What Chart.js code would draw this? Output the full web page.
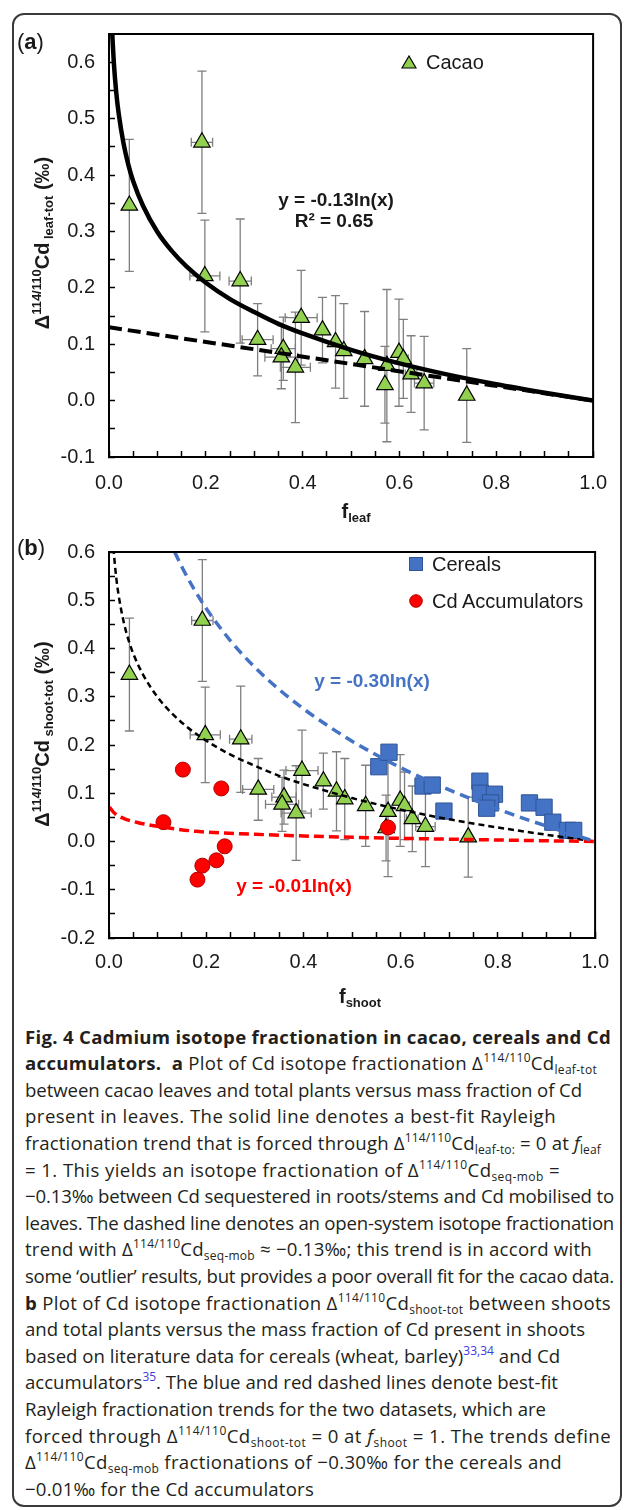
<!DOCTYPE html>
<html><head><meta charset="utf-8">
<script src="https://cdn.jsdelivr.net/npm/chart.js@4.4.1/dist/chart.umd.min.js"></script>
<style>
html,body{margin:0;padding:0;background:#fff;}
#page{position:relative;width:627px;height:1510px;overflow:hidden;font-family:'Liberation Sans',Arial,sans-serif;color:#1a1a1a;}
#frame{position:absolute;left:12px;top:13px;width:610px;height:1494px;border:2px solid #3a3a3a;border-radius:12px;box-sizing:border-box;}
canvas{position:absolute;left:0;}
.ov{position:absolute;white-space:nowrap;line-height:1;}
.c{transform:translate(-50%,-50%);}
.l{transform:translate(0,-50%);}
.rot{transform:translate(-50%,-50%) rotate(-90deg);font-weight:bold;font-size:20px;}
.sp{font-size:13px;position:relative;top:-8px;}
.sb{font-size:13px;position:relative;top:4px;}
.eq{font-weight:bold;font-size:19px;}
.leg{font-size:20px;}
#cap{position:absolute;left:25px;top:1023.7px;width:620px;font-family:'Open Sans','Noto Sans',sans-serif;font-size:18.6px;color:#231f20;}
#cap div{height:26.6px;line-height:26.6px;white-space:nowrap;}
#cap div span.w{display:inline-block;white-space:nowrap;transform-origin:0 50%;}
#cap .u{font-size:12px;position:relative;top:-8px;}
#cap .d{font-size:12px;position:relative;top:4px;}
#cap .ref{font-size:12px;position:relative;top:-8px;color:#3a3ae0;}
</style></head>
<body>
<div id="page">
  <div id="frame"></div>
  <canvas id="ca" width="627" height="520" style="top:0"></canvas>
  <canvas id="cb" width="627" height="500" style="top:520px"></canvas>

  <!-- panel a text -->
  <div class="ov l" style="left:17px;top:42px;font-size:22px;">(<b>a</b>)</div>
  <div class="ov rot" style="left:42px;top:243px;">Δ<span class="sp">114/110</span>Cd<span class="sb"> leaf-tot</span> (‰)</div>
  <div class="ov c" style="left:356px;top:511px;font-weight:bold;font-size:20px;">f<span class="sb">leaf</span></div>
  <div class="ov c eq" style="left:336px;top:199px;">y = -0.13ln(x)</div>
  <div class="ov c eq" style="left:334px;top:220px;">R² = 0.65</div>
  <svg class="ov" style="left:401px;top:55px" width="16" height="14"><polygon points="8,1 15,13 1,13" fill="#92D050" stroke="#000" stroke-width="1.2"/></svg>
  <div class="ov l leg" style="left:426px;top:62px;">Cacao</div>

  <!-- panel b text -->
  <div class="ov l" style="left:17px;top:548px;font-size:22px;">(<b>b</b>)</div>
  <div class="ov rot" style="left:42px;top:734px;">Δ<span class="sp">114/110</span>Cd<span class="sb"> shoot-tot</span> (‰)</div>
  <div class="ov c" style="left:360px;top:996px;font-weight:bold;font-size:20px;">f<span class="sb">shoot</span></div>
  <div class="ov c eq" style="left:372px;top:680px;color:#4472C4;">y = -0.30ln(x)</div>
  <div class="ov c eq" style="left:294px;top:885px;color:#FF0000;">y = -0.01ln(x)</div>
  <svg class="ov" style="left:409px;top:557px" width="14" height="14"><rect x="0.5" y="0.5" width="13" height="13" fill="#4472C4" stroke="#2F5597" stroke-width="1"/></svg>
  <div class="ov l leg" style="left:432px;top:564px;">Cereals</div>
  <svg class="ov" style="left:409px;top:594px" width="14" height="14"><circle cx="7" cy="7" r="6.3" fill="#FF0000" stroke="#B00000" stroke-width="1"/></svg>
  <div class="ov l leg" style="left:432px;top:601px;">Cd Accumulators</div>

  <div id="cap">
    <div><span class="w"><b>Fig. 4 Cadmium isotope fractionation in cacao, cereals and Cd</b></span></div>
    <div><span class="w"><b>accumulators.</b>&nbsp; <b>a</b> Plot of Cd isotope fractionation Δ<span class="u">114/110</span>Cd<span class="d">leaf-tot</span></span></div>
    <div><span class="w">between cacao leaves and total plants versus mass fraction of Cd</span></div>
    <div><span class="w">present in leaves. The solid line denotes a best-fit Rayleigh</span></div>
    <div><span class="w">fractionation trend that is forced through Δ<span class="u">114/110</span>Cd<span class="d">leaf-to:</span> = 0 at <i>f</i><span class="d">leaf</span></span></div>
    <div><span class="w">= 1. This yields an isotope fractionation of Δ<span class="u">114/110</span>Cd<span class="d">seq-mob</span> =</span></div>
    <div><span class="w">−0.13‰ between Cd sequestered in roots/stems and Cd mobilised to</span></div>
    <div><span class="w">leaves. The dashed line denotes an open-system isotope fractionation</span></div>
    <div><span class="w">trend with Δ<span class="u">114/110</span>Cd<span class="d">seq-mob</span> ≈ −0.13‰; this trend is in accord with</span></div>
    <div><span class="w">some ‘outlier’ results, but provides a poor overall fit for the cacao data.</span></div>
    <div><span class="w"><b>b</b> Plot of Cd isotope fractionation Δ<span class="u">114/110</span>Cd<span class="d">shoot-tot</span> between shoots</span></div>
    <div><span class="w">and total plants versus the mass fraction of Cd present in shoots</span></div>
    <div><span class="w">based on literature data for cereals (wheat, barley)<span class="ref">33,34</span> and Cd</span></div>
    <div><span class="w">accumulators<span class="ref">35</span>. The blue and red dashed lines denote best-fit</span></div>
    <div><span class="w">Rayleigh fractionation trends for the two datasets, which are</span></div>
    <div><span class="w">forced through Δ<span class="u">114/110</span>Cd<span class="d">shoot-tot</span> = 0 at <i>f</i><span class="d">shoot</span> = 1. The trends define</span></div>
    <div><span class="w">Δ<span class="u">114/110</span>Cd<span class="d">seq-mob</span> fractionations of −0.30‰ for the cereals and</span></div>
    <div><span class="w">−0.01‰ for the Cd accumulators</span></div>
  </div>
</div>
<script>
// ---------- data ----------
const xTickLabels = ['0.0','0.2','0.4','0.6','0.8','1.0'];
const yTickLabelsA = ['-0.1','0.0','0.1','0.2','0.3','0.4','0.5','0.6'];
const yTickLabelsB = ['-0.2','-0.1','0.0','0.1','0.2','0.3','0.4','0.5','0.6'];

const cacaoF    = [0.042,0.192,0.198,0.271,0.307,0.360,0.356,0.385,0.397,0.441,0.468,0.485,0.528,0.574,0.570,0.599,0.608,0.624,0.651,0.739];
const cacaoD    = [0.346,0.458,0.221,0.212,0.108,0.092,0.077,0.059,0.147,0.125,0.104,0.088,0.074,0.062,0.028,0.085,0.074,0.047,0.031,0.009];
const cacaoDErr = [0.117,0.126,0.099,0.110,0.064,0.056,0.056,0.098,0.084,0.058,0.082,0.084,0.084,0.135,0.068,0.095,0.070,0.068,0.083,0.083];
const cacaoFErr = [0,0.022,0.031,0.023,0.032,0.025,0.034,0.031,0.033,0,0,0,0,0,0,0,0.010,0.012,0.020,0];

const cerealF = [0.555,0.576,0.646,0.665,0.689,0.763,0.764,0.793,0.785,0.777,0.865,0.895,0.913,0.943,0.956];
const cerealD = [0.155,0.185,0.115,0.117,0.063,0.125,0.100,0.098,0.080,0.069,0.080,0.071,0.040,0.023,0.023];

const accumF = [0.152,0.231,0.112,0.238,0.221,0.192,0.182,0.574];
const accumD = [0.149,0.110,0.040,-0.010,-0.039,-0.050,-0.079,0.029];

// trend curves (y = -0.13 ln x, open-system, y = -0.30 ln x, y = -0.01 ln x)
const cacaoFitF = [0.0067,0.01,0.015,0.02,0.03,0.04,0.05,0.07,0.1,0.13,0.16,0.2,0.25,0.3,0.35,0.4,0.5,0.6,0.7,0.8,0.9,1.0];
const cacaoFitD = [0.65,0.599,0.546,0.509,0.456,0.418,0.389,0.346,0.299,0.265,0.238,0.209,0.180,0.157,0.136,0.119,0.090,0.066,0.046,0.029,0.014,0];
const openF = [0, 1];
const openD = [0.13, 0];
const cerealFitF = [0.135,0.15,0.175,0.2,0.25,0.3,0.35,0.4,0.45,0.5,0.6,0.7,0.8,0.9,1.0];
const cerealFitD = [0.600,0.569,0.523,0.483,0.416,0.361,0.315,0.275,0.240,0.208,0.153,0.107,0.067,0.032,0];
const accumFitF = [0.001,0.012,0.03,0.06,0.11,0.18,0.3,0.45,0.6,0.75,0.9,1.0];
const accumFitD = [0.071,0.058,0.048,0.039,0.030,0.021,0.015,0.010,0.0065,0.004,0.0015,0];

// caption line right edges (layout only)
const capRight = [611,597,582,556,601,560,614,614,592,614,611,585,560,558,546,611,562,314];

// ---------- caption fitting ----------
function fitCaption() {
  const lines = document.querySelectorAll('#cap span.w');
  lines.forEach((sp, i) => {
    sp.style.transform = 'none';
    const left = sp.getBoundingClientRect().left;
    const target = capRight[i] - left;
    const n = Math.max(1, sp.textContent.length);
    let ls = 0;
    sp.style.letterSpacing = '0px';
    for (let k = 0; k < 4; k++) {
      const w = sp.getBoundingClientRect().width;
      ls += (target - w) / n;
      ls = Math.max(-1.5, Math.min(1, ls));
      sp.style.letterSpacing = ls.toFixed(3) + 'px';
    }
    const w2 = sp.getBoundingClientRect().width;
    if (w2 > target + 1) sp.style.transform = 'scaleX(' + (target / w2).toFixed(4) + ')';
  });
}
fitCaption();
if (document.fonts && document.fonts.ready) document.fonts.ready.then(fitCaption);

// ---------- helpers ----------
const pts = (xs, ys) => xs.map((x, i) => ({x, y: ys[i]}));
Chart.defaults.font.family = "'Liberation Sans', Arial, sans-serif";
Chart.defaults.color = '#1a1a1a';

const errorBars = {
  id: 'errorBars',
  beforeDatasetsDraw(chart) {
    const {ctx, chartArea: a, scales: {x, y}} = chart;
    ctx.save();
    ctx.beginPath(); ctx.rect(a.left, a.top, a.width, a.height); ctx.clip();
    ctx.strokeStyle = '#7f7f7f'; ctx.lineWidth = 1.3;
    chart.data.datasets.forEach(ds => {
      if (!ds.errY) return;
      ds.data.forEach((p, i) => {
        const px = x.getPixelForValue(p.x), py = y.getPixelForValue(p.y);
        const ey = ds.errY[i], ex = ds.errX ? ds.errX[i] : 0, c = 4.5;
        ctx.beginPath();
        if (ey > 0) {
          const t = y.getPixelForValue(p.y + ey), b = y.getPixelForValue(p.y - ey);
          ctx.moveTo(px, t); ctx.lineTo(px, b);
          ctx.moveTo(px - c, t); ctx.lineTo(px + c, t);
          ctx.moveTo(px - c, b); ctx.lineTo(px + c, b);
        }
        if (ex > 0) {
          const l = x.getPixelForValue(p.x - ex), r = x.getPixelForValue(p.x + ex);
          ctx.moveTo(l, py); ctx.lineTo(r, py);
          ctx.moveTo(l, py - c); ctx.lineTo(l, py + c);
          ctx.moveTo(r, py - c); ctx.lineTo(r, py + c);
        }
        ctx.stroke();
      });
    });
    ctx.restore();
  }
};
const plotBox = {
  id: 'plotBox',
  afterDatasetsDraw(chart) {
    const {ctx, chartArea: a} = chart;
    ctx.save(); ctx.strokeStyle = '#000'; ctx.lineWidth = 2;
    ctx.strokeRect(a.left, a.top, a.width, a.height); ctx.restore();
  }
};

function labelCb(labels) {
  return v => {
    const s = (Math.abs(v) < 1e-9 ? 0 : v).toFixed(1);
    return (labels.includes(s) && Math.abs(v - parseFloat(s)) < 1e-6) ? s : '';
  };
}
function axis(min, max, labels, pad, fit) {
  return {
    type: 'linear', min, max,
    ticks: {stepSize: 0.05, autoSkip: false, padding: pad, color: '#1a1a1a', font: {size: 20}, maxRotation: 0, callback: labelCb(labels)},
    grid: {display: true, drawOnChartArea: false, drawTicks: true, tickLength: -6, tickColor: '#000', tickWidth: 1.5},
    border: {display: true, color: '#000', width: 2},
    afterFit: fit
  };
}
function curve(xs, ys, color, width, dash, order) {
  return {data: pts(xs, ys), showLine: true, pointRadius: 0, borderColor: color, borderWidth: width,
          borderDash: dash, fill: false, cubicInterpolationMode: 'monotone', order, borderCapStyle: 'butt'};
}
const cacaoSet = () => ({label: 'Cacao', data: pts(cacaoF, cacaoD), errY: cacaoDErr, errX: cacaoFErr,
  pointStyle: 'triangle', pointRadius: 9.5, backgroundColor: '#92D050', borderColor: '#000', borderWidth: 1.2, order: 5});

function makeChart(id, datasets, ymin, ymax, yLabels, padTop, xH, xPad) {
  return new Chart(document.getElementById(id), {
    type: 'scatter',
    data: {datasets},
    options: {
      responsive: false, animation: false, events: [],
      layout: {padding: {left: 0, right: 24, top: padTop, bottom: 0}},
      plugins: {legend: {display: false}, tooltip: {enabled: false}},
      scales: {
        x: axis(0, 1, xTickLabels, xPad, s => { s.height = xH; }),
        y: axis(ymin, ymax, yLabels, 20, s => { s.width = 109; })
      }
    },
    plugins: [errorBars, plotBox]
  });
}

makeChart('ca', [
  curve(cacaoFitF, cacaoFitD, '#000', 4.5, [], 0),
  curve(openF, openD, '#000', 4, [13, 6], 1),
  cacaoSet()
], -0.1, 0.65, yTickLabelsA, 34, 63, 20);

makeChart('cb', [
  curve(cerealFitF, cerealFitD, '#4472C4', 3.5, [10, 6], 0),
  curve(accumFitF, accumFitD, '#FF0000', 3.5, [10, 5], 1),
  curve(cacaoFitF, cacaoFitD, '#000', 2.5, [6, 4], 2),
  {label: 'Cereals', data: pts(cerealF, cerealD), pointStyle: 'rect', pointRadius: 11.5,
   backgroundColor: '#4472C4', borderColor: '#2F5597', borderWidth: 1, order: 3},
  {label: 'Cd Accumulators', data: pts(accumF, accumD), pointStyle: 'circle', pointRadius: 7.5,
   backgroundColor: '#FF0000', borderColor: '#B00000', borderWidth: 1, order: 4},
  cacaoSet()
], -0.2, 0.6, yTickLabelsB, 18, 82, 18);
</script>
</body></html>
